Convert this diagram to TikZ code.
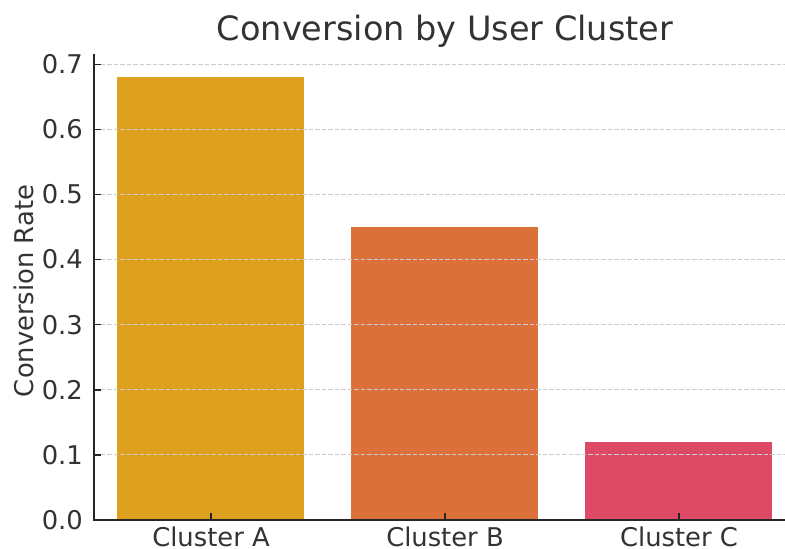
\documentclass[tikz,border=0pt]{standalone}
\usepackage{fontspec}
\setmainfont{DejaVu Sans}
\definecolor{barA}{HTML}{DFA020}
\definecolor{barB}{HTML}{DB703A}
\definecolor{barC}{HTML}{DC4A65}
\definecolor{txt}{HTML}{333333}
\definecolor{spine}{HTML}{262626}
\definecolor{gridc}{HTML}{CCCCCC}
\tikzset{
  bar/.style={draw=none},
  gridline/.style={gridc, line width=1pt, dash pattern=on 4.5pt off 2pt},
  spineline/.style={spine, line width=2pt},
  tickmark/.style={spine, line width=1.5pt},
  ticklab/.style={text=txt, font=\fontsize{25.8}{26}\selectfont, inner sep=0pt},
  titlelab/.style={text=txt, font=\fontsize{33.5}{34}\selectfont, inner sep=0pt},
}
\begin{document}
\begin{tikzpicture}[x=1pt,y=-1pt]
\useasboundingbox (0,0) rectangle (785,549);
\fill[white] (0,0) rectangle (785,549);
% bars
\fill[barA] (117.3,520) rectangle (304.3,76.6);
\fill[barB] (351.3,520) rectangle (538.3,227);
\fill[barC] (585.3,520) rectangle (772.3,441.7);
% grid
\foreach \v/\yy in {1/454.9,2/389.8,3/324.7,4/259.6,5/194.5,6/129.4,7/64.3}{
  \draw[gridline] (94,\yy) -- (785,\yy);
  \draw[tickmark] (94,\yy) -- (101,\yy);
  \node[ticklab, anchor=east] at (83,\yy) {0.\v};
}
\node[ticklab, anchor=east] at (83,520) {0.0};
% spines
\draw[spineline] (94,54) -- (94,520) -- (785,520);
% x ticks
\foreach \xx/\lab in {211/A,445/B,679/C}{
  \draw[tickmark] (\xx,520) -- (\xx,513);
  \node[ticklab, anchor=base, text depth=0pt] at (\xx,546.5) {Cluster \lab};
}
\node[ticklab, rotate=90, anchor=base] at (33,291) {Conversion Rate};
\node[titlelab, anchor=base] at (445,40) {Conversion by User Cluster};
\end{tikzpicture}
\end{document}
